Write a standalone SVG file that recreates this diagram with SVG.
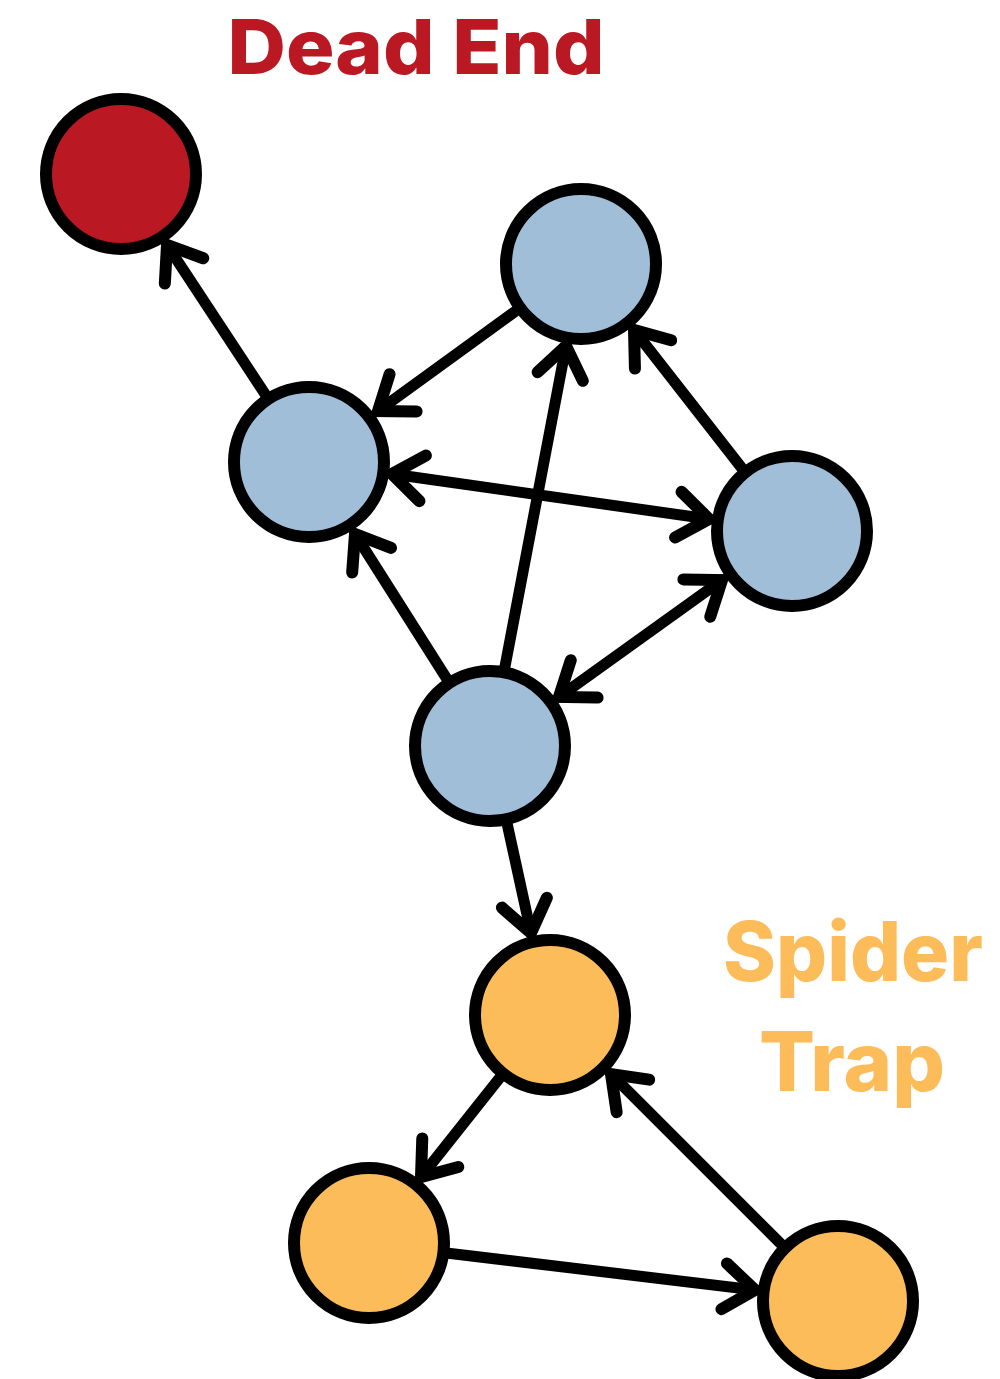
<svg xmlns="http://www.w3.org/2000/svg" width="1000" height="1379" viewBox="0 0 1000 1379">
  <style>
    .edge { fill: none; stroke: #000; stroke-width: 11; stroke-linecap: round; stroke-linejoin: round; }
    .node { stroke: #000; stroke-width: 12; }
    .blue { fill: #A1BED9; }
    .red { fill: #BA1923; }
    .orange { fill: #FDBC5A; }
    .label { font-family: Inter, "Liberation Sans", sans-serif; font-weight: 800; }
  </style>
  <defs>
    <marker id="head" markerUnits="userSpaceOnUse" orient="auto-start-reverse" overflow="visible" markerWidth="10" markerHeight="10" refX="0" refY="0">
      <path d="M-31,-23 L0,0 L-31,23" fill="none" stroke="#000" stroke-width="12" stroke-linecap="round" stroke-linejoin="miter"/>
    </marker>
  </defs>

  <rect width="1000" height="1379" fill="#fff"/>

  <text class="label" x="416" y="74" font-size="76" fill="#BA1923" text-anchor="middle" textLength="377" lengthAdjust="spacingAndGlyphs">Dead End</text>
  <text class="label" x="853" y="981" font-size="82" fill="#FDBC5A" text-anchor="middle" textLength="260" lengthAdjust="spacingAndGlyphs">Spider</text>
  <text class="label" x="852" y="1091" font-size="82" fill="#FDBC5A" text-anchor="middle" textLength="186" lengthAdjust="spacingAndGlyphs">Trap</text>

  <g id="connectors">
    <!-- left -> dead end -->
    <path class="edge" d="M271,403 L167,245" marker-end="url(#head)"/>
    <!-- top -> left -->
    <path class="edge" d="M524,305 L378,411" marker-end="url(#head)"/>
    <!-- left <-> right -->
    <path class="edge" d="M392,474 L709,519" marker-start="url(#head)" marker-end="url(#head)"/>
    <!-- bottom -> top -->
    <path class="edge" d="M503,677 L566,346" marker-end="url(#head)"/>
    <!-- right -> top -->
    <path class="edge" d="M748,476 L634,330" marker-end="url(#head)"/>
    <!-- bottom -> left -->
    <path class="edge" d="M452,687 L355,534" marker-end="url(#head)"/>
    <!-- bottom <-> right -->
    <path class="edge" d="M559,697 L722,580" marker-start="url(#head)" marker-end="url(#head)"/>
    <!-- bottom -> trap top -->
    <path class="edge" d="M505,814 L531,933" marker-end="url(#head)"/>
    <!-- trap top -> trap left -->
    <path class="edge" d="M506,1070 L421,1177" marker-end="url(#head)"/>
    <!-- trap left -> trap right -->
    <path class="edge" d="M438,1252 L755,1290" marker-end="url(#head)"/>
    <!-- trap right -> trap top -->
    <path class="edge" d="M788,1251 L611,1074" marker-end="url(#head)"/>
  </g>

  <g id="node-dead-end"><circle class="node red" cx="121" cy="174" r="75"/></g>
  <g id="node-top"><circle class="node blue" cx="581" cy="264" r="75"/></g>
  <g id="node-left"><circle class="node blue" cx="309" cy="462" r="75"/></g>
  <g id="node-right"><circle class="node blue" cx="792" cy="531" r="75"/></g>
  <g id="node-bottom"><circle class="node blue" cx="490" cy="746" r="75"/></g>
  <g id="node-trap-top"><circle class="node orange" cx="550" cy="1015" r="75"/></g>
  <g id="node-trap-left"><circle class="node orange" cx="369" cy="1243" r="75"/></g>
  <g id="node-trap-right"><circle class="node orange" cx="838" cy="1301" r="75"/></g>
</svg>
